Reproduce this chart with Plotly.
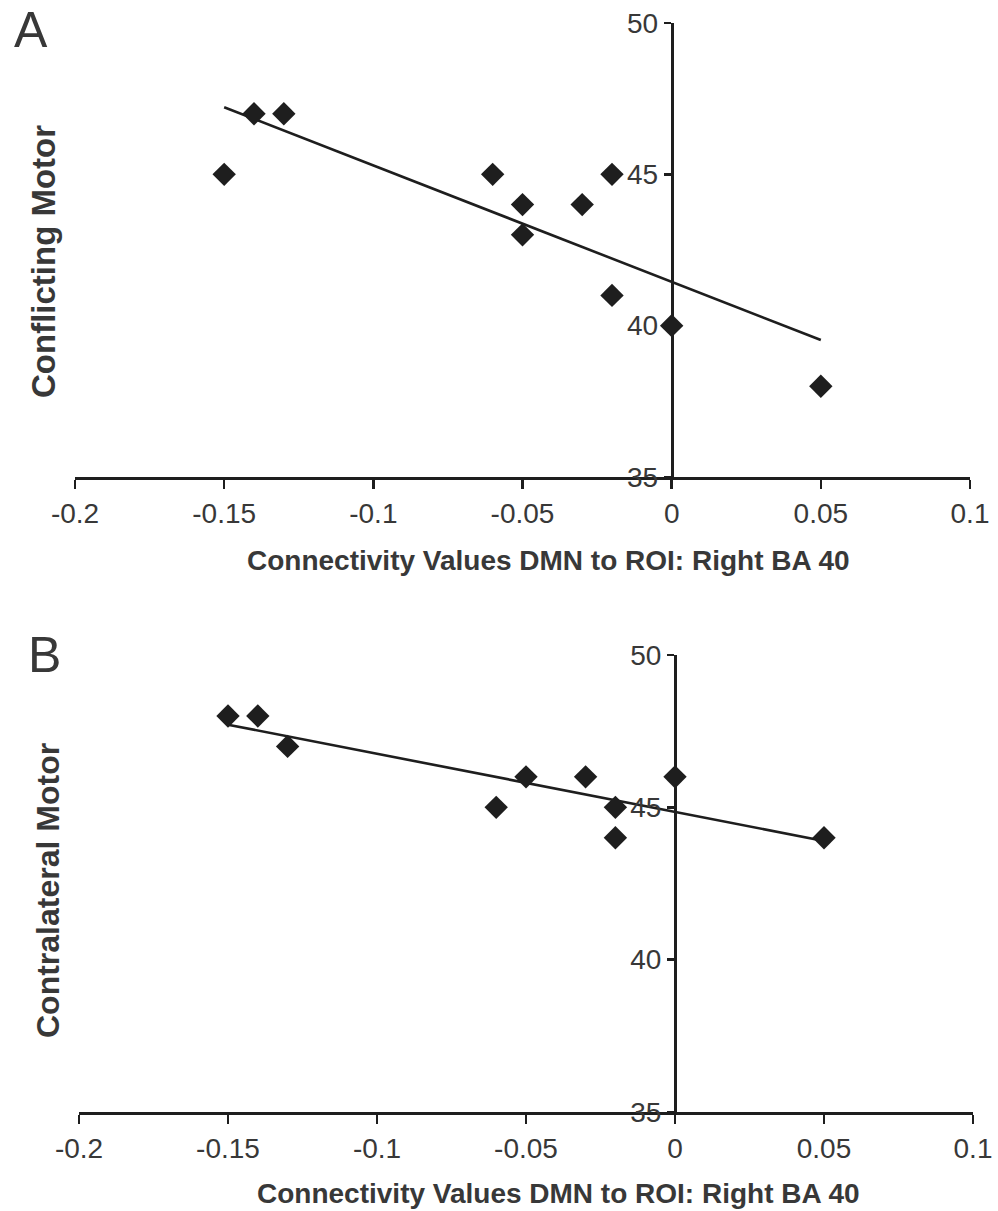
import numpy as np
import plotly.graph_objects as go

W, H = 998, 1211

# ---- data ----
x_a = [-0.15, -0.14, -0.13, -0.06, -0.05, -0.05, -0.03, -0.02, -0.02, 0.00, 0.05]
y_a = [45, 47, 47, 45, 44, 43, 44, 45, 41, 40, 38]
x_b = [-0.15, -0.14, -0.13, -0.06, -0.05, -0.03, -0.02, -0.02, 0.00, 0.05]
y_b = [48, 48, 47, 45, 46, 46, 45, 44, 46, 44]

x_tickvals = [-0.2, -0.15, -0.1, -0.05, 0, 0.05, 0.1]
x_ticktext = ["-0.2", "-0.15", "-0.1", "-0.05", "0", "0.05", "0.1"]
y_tickvals = [35, 40, 45, 50]
y_ticktext = ["35", "40", "45", "50"]
x_range = [-0.2, 0.1]
y_range = [35, 50]

x_title = "Connectivity Values DMN to ROI: Right BA 40"
y_title_a = "Conflicting Motor"
y_title_b = "Contralateral Motor"

FONT = "Liberation Sans, Arial, sans-serif"
INK = "#1e1e1e"
TXT = "#383838"


def px_x(p):
    return p / W


def px_y(p):
    return 1 - p / H


def fit_line(xs, ys):
    k, b = np.polyfit(xs, ys, 1)
    xl = np.array([min(xs), max(xs)])
    return xl, k * xl + b


fig = go.Figure()

for xs, ys, xa, ya in [(x_a, y_a, "x", "y"), (x_b, y_b, "x2", "y2")]:
    xl, yl = fit_line(xs, ys)
    fig.add_trace(go.Scatter(x=xl, y=yl, mode="lines", xaxis=xa, yaxis=ya,
                             line=dict(color=INK, width=2.6), showlegend=False,
                             hoverinfo="skip"))
    fig.add_trace(go.Scatter(x=xs, y=ys, mode="markers", xaxis=xa, yaxis=ya,
                             marker=dict(symbol="diamond", size=18, color=INK,
                                         line=dict(width=0)),
                             showlegend=False))

# panel geometry (pixels)
A_dom_x = [px_x(75), px_x(970)]
A_dom_y = [px_y(477), px_y(23)]
B_dom_x = [px_x(79), px_x(973)]
B_dom_y = [px_y(1112), px_y(655)]


def zero_pos(dom):
    frac = (0 - x_range[0]) / (x_range[1] - x_range[0])
    return dom[0] + frac * (dom[1] - dom[0])


xcommon = dict(range=x_range, tickmode="array", tickvals=x_tickvals, ticktext=x_ticktext,
               showline=True, linewidth=3, linecolor=INK, ticks="outside", ticklen=9,
               tickwidth=2.5, tickcolor=INK, showgrid=False, zeroline=False,
               tickfont=dict(family=FONT, size=28, color=TXT), automargin=False,
               fixedrange=True)
ycommon = dict(range=y_range, tickmode="array", tickvals=y_tickvals, ticktext=y_ticktext,
               showline=True, linewidth=3, linecolor=INK, ticks="outside", ticklen=7,
               tickwidth=2.5, tickcolor=INK, showgrid=False, zeroline=False,
               tickfont=dict(family=FONT, size=28, color=TXT), automargin=False,
               anchor="free", fixedrange=True)

fig.update_layout(
    width=W, height=H, template="none",
    paper_bgcolor="white", plot_bgcolor="rgba(0,0,0,0)",
    margin=dict(l=0, r=0, t=0, b=0, pad=0),
    showlegend=False,
    xaxis=dict(domain=A_dom_x, anchor="y", **xcommon),
    yaxis=dict(domain=A_dom_y, position=zero_pos(A_dom_x), **ycommon),
    xaxis2=dict(domain=B_dom_x, anchor="y2", **xcommon),
    yaxis2=dict(domain=B_dom_y, position=zero_pos(B_dom_x), **ycommon),
)

ann = [
    dict(text="A", x=px_x(31), y=px_y(30), font=dict(family=FONT, size=50, color=TXT)),
    dict(text="B", x=px_x(44), y=px_y(655), font=dict(family=FONT, size=50, color=TXT)),
    dict(text="<b>" + x_title + "</b>", x=px_x(548), y=px_y(560),
         font=dict(family=FONT, size=28, color=TXT)),
    dict(text="<b>" + x_title + "</b>", x=px_x(558), y=px_y(1193),
         font=dict(family=FONT, size=28, color=TXT)),
    dict(text="<b>" + y_title_a + "</b>", x=px_x(43), y=px_y(262), textangle=-90,
         font=dict(family=FONT, size=33, color=TXT)),
    dict(text="<b>" + y_title_b + "</b>", x=px_x(48), y=px_y(891), textangle=-90,
         font=dict(family=FONT, size=32, color=TXT)),
]
for a in ann:
    a.update(xref="paper", yref="paper", xanchor="center", yanchor="middle",
             showarrow=False)
fig.update_layout(annotations=ann)

fig.write_html("out.html", config={"displayModeBar": False, "staticPlot": True},
               post_script="document.body.style.margin='0px';")
